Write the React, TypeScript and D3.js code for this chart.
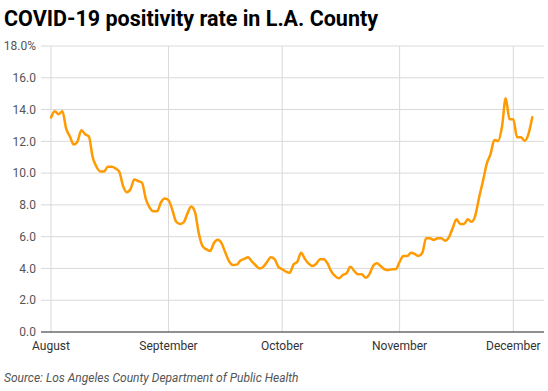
import * as React from 'react'
import * as d3 from 'd3'

const startDate = new Date(2020, 7, 1)

// daily positivity rate (%), Aug 1 – Dec 6
const positivity: number[] = [
  13.5, 13.9, 13.7, 13.9, 12.8, 12.3, 11.8, 12.0, 12.7, 12.45,
  12.3, 11.0, 10.4, 10.1, 10.1, 10.4, 10.4, 10.3, 10.1, 9.2,
  8.8, 9.0, 9.6, 9.5, 9.4, 8.4, 7.85, 7.6, 7.6, 8.15,
  8.4, 8.3, 7.7, 6.95, 6.8, 6.9, 7.45, 7.9, 7.55, 6.2,
  5.4, 5.2, 5.1, 5.6, 5.8, 5.6, 5.0, 4.45, 4.22, 4.24,
  4.5, 4.6, 4.7, 4.45, 4.2, 4.0, 4.1, 4.4, 4.7, 4.58,
  4.1, 3.95, 3.8, 3.73, 4.25, 4.42, 4.99, 4.6, 4.3, 4.15,
  4.3, 4.58, 4.58, 4.3, 3.8, 3.52, 3.38, 3.59, 3.7, 4.1,
  3.85, 3.63, 3.63, 3.42, 3.63, 4.15, 4.32, 4.15, 3.95, 3.9,
  3.95, 3.96, 4.42, 4.78, 4.78, 4.99, 4.91, 4.78, 4.99, 5.9,
  5.9, 5.79, 5.9, 5.9, 5.75, 5.96, 6.53, 7.09, 6.8, 6.8,
  7.09, 6.94, 7.36, 8.5, 9.5, 10.6, 11.2, 12.08, 12.02, 12.9,
  14.71, 13.39, 13.39, 12.25, 12.25, 12.04, 12.46, 13.51,
]

const yTicks = [0, 2, 4, 6, 8, 10, 12, 14, 16, 18]
const monthTicks = [
  new Date(2020, 7, 1),
  new Date(2020, 8, 1),
  new Date(2020, 9, 1),
  new Date(2020, 10, 1),
  new Date(2020, 11, 1),
]

const title = 'COVID-19 positivity rate in L.A. County'
const source = 'Source: Los Angeles County Department of Public Health'

const W = 548
const H = 391
const font = 'Roboto, "Noto Sans", sans-serif'

const App: React.FC = () => {
  const data = positivity.map((v, i) => ({ date: d3.timeDay.offset(startDate, i), value: v }))

  const x = d3.scaleTime()
    .domain([monthTicks[0], monthTicks[4]])
    .range([51, 513.3])

  const y = d3.scaleLinear()
    .domain([0, 18])
    .range([332, 46])

  const line = d3.line<{ date: Date; value: number }>()
    .x(d => x(d.date))
    .y(d => y(d.value))
    .curve(d3.curveMonotoneX)

  const gridLeft = 41
  const gridRight = 544

  return (
    <svg width={W} height={H} style={{ position: 'absolute', left: 0, top: 0, background: '#fff' }}>
      <text x={4} y={26} fontFamily={font} fontWeight={700} fontSize={21.5} fill="#000">{title}</text>

      {yTicks.filter(t => t > 0).map(t => (
        <line key={'h' + t} x1={gridLeft} x2={gridRight} y1={y(t)} y2={y(t)} stroke="#d9d9d9" strokeWidth={1} />
      ))}
      {monthTicks.map((m, i) => (
        <line key={'v' + i} x1={x(m)} x2={x(m)} y1={y(18)} y2={y(0)} stroke="#d9d9d9" strokeWidth={1} />
      ))}

      {yTicks.map(t => (
        <text key={'yl' + t} x={36} y={y(t)} dy="0.35em" textAnchor="end"
          fontFamily={font} fontSize={12} fill="#555">
          {t === 18 ? t.toFixed(1) + '%' : t.toFixed(1)}
        </text>
      ))}

      <path d={line(data) ?? ''} fill="none" stroke="#ff9a00" strokeWidth={2.5} strokeLinejoin="round" strokeLinecap="round" />

      <line x1={gridLeft} x2={gridRight} y1={y(0)} y2={y(0)} stroke="#222" strokeWidth={1.2} />

      {monthTicks.map((m, i) => (
        <text key={'xl' + i} x={x(m)} y={350} textAnchor="middle"
          fontFamily={font} fontSize={12} fill="#333">
          {d3.timeFormat('%B')(m)}
        </text>
      ))}

      <text x={4} y={382} fontFamily={font} fontStyle="italic" fontSize={12} fill="#555">{source}</text>
    </svg>
  )
}

export default App
